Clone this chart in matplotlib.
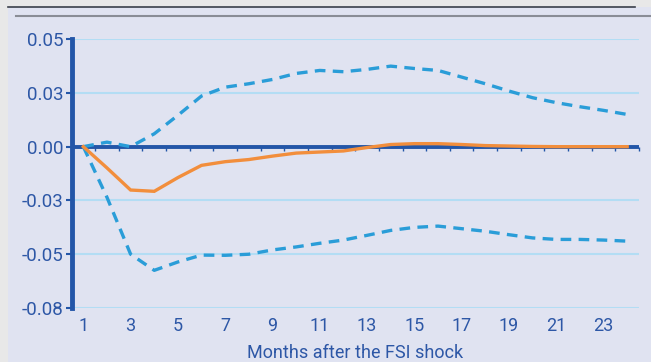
import matplotlib
matplotlib.use("Agg")
import matplotlib.pyplot as plt
from matplotlib.lines import Line2D

months = list(range(1, 25))
central = [0.0, -0.0099, -0.0202, -0.0208, -0.0144, -0.0087, -0.0070, -0.0060,
           -0.0044, -0.0030, -0.0025, -0.0020, -0.0004, 0.0010, 0.0014, 0.0014,
           0.0010, 0.0005, 0.0003, 0.0001, 0.0, 0.0, 0.0, 0.0]
upper = [0.0, 0.0021, 0.0, 0.0060, 0.0146, 0.0236, 0.0277, 0.0293,
         0.0313, 0.0341, 0.0355, 0.0349, 0.0360, 0.0375, 0.0364, 0.0355,
         0.0324, 0.0293, 0.0259, 0.0228, 0.0205, 0.0186, 0.0169, 0.0150]
lower = [0.0, -0.0236, -0.0501, -0.0576, -0.0537, -0.0505, -0.0506, -0.0501,
         -0.0481, -0.0467, -0.0450, -0.0435, -0.0413, -0.0390, -0.0376, -0.0370,
         -0.0382, -0.0394, -0.0410, -0.0425, -0.0432, -0.0432, -0.0435, -0.0440]
y_ticks = [0.05, 0.025, 0.0, -0.025, -0.05, -0.075]
y_tick_labels = ["0.05", "0.03", "0.00", "-0.03", "-0.05", "-0.08"]
x_tick_labels = [str(m) for m in range(1, 24, 2)]
x_label = "Months after the FSI shock"

plt.rcParams['font.family'] = ['Roboto', 'DejaVu Sans']

BG = "#E0E3F1"
TXT = "#2D57A6"
AXC = "#2356A8"
GRID = "#B3DDF4"
DASH = "#2A9DD8"
ORANGE = "#F28E3C"

fig = plt.figure(figsize=(6.51, 3.62), dpi=100)
fig.patch.set_facecolor("#E8E8E8")
W, H = 651, 362

# lavender panel
fig.add_artist(plt.Rectangle((8 / W, 0), 1 - 8 / W, 1 - 7 / H, transform=fig.transFigure,
                             facecolor=BG, edgecolor="none", zorder=0))
fig.add_artist(Line2D([8 / W, 635 / W], [1 - 7 / H, 1 - 7 / H], transform=fig.transFigure,
                      color="#3a3f4a", lw=1.2))
fig.add_artist(Line2D([16 / W, 650 / W], [1 - 15.5 / H, 1 - 15.5 / H], transform=fig.transFigure,
                      color="#8a8d96", lw=1.5))

left = 71.5 / W
right = 639 / W
bottom = (H - 307.7) / H
top = (H - 39.3) / H
ax = fig.add_axes([left, bottom, right - left, top - bottom])
ax.set_facecolor("none")

ax.set_xlim(0.5, 24.5)
ax.set_ylim(-0.075, 0.05)

for yv in y_ticks:
    if yv != 0:
        ax.axhline(yv, color=GRID, lw=1.5, zorder=1)

ax.plot(months, upper, color=DASH, lw=2.4, linestyle=(0, (3.2, 2.2)), zorder=3)
ax.plot(months, lower, color=DASH, lw=2.4, linestyle=(0, (3.2, 2.2)), zorder=3)

ax.axhline(0, color=AXC, lw=2.8, zorder=2)
ax.plot(months, central, color=ORANGE, lw=2.4, zorder=4, solid_joinstyle="miter")

for s in ["top", "right", "bottom"]:
    ax.spines[s].set_visible(False)
ax.spines["left"].set_color(AXC)
ax.spines["left"].set_linewidth(3.5)
ax.spines["left"].set_zorder(5)

ax.set_yticks(y_ticks)
ax.set_yticklabels(y_tick_labels)
ax.tick_params(axis="y", colors=AXC, labelcolor=TXT, length=4, width=1.5,
               direction="out", labelsize=13.5, pad=2)

ax.set_xticks(list(range(1, 24, 2)))
ax.set_xticklabels(x_tick_labels)
ax.tick_params(axis="x", length=0, labelcolor=TXT, labelsize=13, pad=7)
ax.set_xlabel(x_label, color=TXT, fontsize=13, labelpad=6)

# small ticks on zero line at category boundaries
sec = ax.secondary_xaxis(0.6)
for s in sec.spines.values():
    s.set_visible(False)
sec.set_xticks([m + 0.5 for m in range(0, 25)])
sec.set_xticklabels([])
sec.xaxis.set_ticks_position("bottom")
sec.tick_params(axis="x", which="both", length=3, width=1, colors=AXC, direction="out",
                labelbottom=False, labeltop=False)

fig.savefig("out.png", dpi=100, facecolor=fig.get_facecolor())
